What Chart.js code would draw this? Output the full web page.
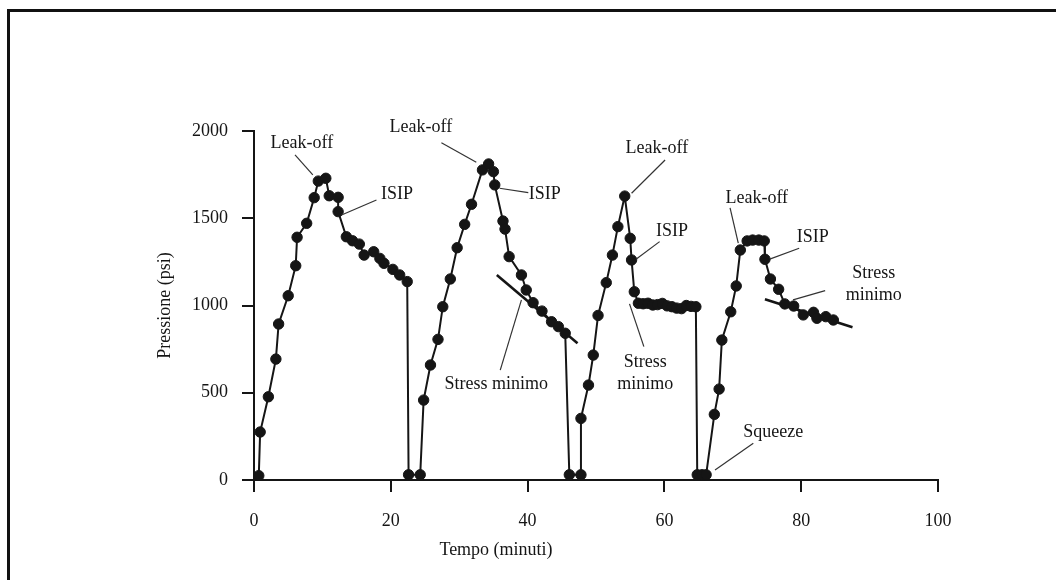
<!DOCTYPE html>
<html>
<head>
<meta charset="utf-8">
<script src="https://cdn.jsdelivr.net/npm/chart.js@4.4.1/dist/chart.umd.min.js"></script>
<style>
  html, body { margin: 0; padding: 0; background: #fff; }
  #wrap { position: relative; width: 1056px; height: 580px; overflow: hidden; }
  #frame { position: absolute; left: 7px; top: 9px; width: 1060px; height: 580px;
           border-top: 3px solid #111; border-left: 3px solid #111; pointer-events: none; }
  canvas { position: absolute; left: 0; top: 0; }
</style>
</head>
<body>
<div id="wrap">
  <canvas id="chart" width="1056" height="580"></canvas>
  <div id="frame"></div>
</div>
<script>
// tempo (minuti) / pressione (psi)
var tempo = [
  0.7, 0.9, 2.1, 3.2, 3.6, 5.0, 6.1, 6.3, 7.7, 8.8, 9.4, 10.5, 11.0, 12.3, 12.3,
  13.5, 14.4, 15.4, 16.1, 17.5, 18.4, 19.0, 20.3, 21.3, 22.4, 22.6, 24.3,
  24.8, 25.8, 26.9, 27.6, 28.7, 29.7, 30.8, 31.8, 33.4, 34.3, 35.0, 35.2,
  36.4, 36.7, 37.3, 39.1, 39.8, 40.8, 42.1, 43.5, 44.5, 45.5, 46.1, 47.8,
  47.8, 48.9, 49.6, 50.3, 51.5, 52.4, 53.2, 54.2, 55.0, 55.2, 55.6, 56.2,
  56.9, 57.6, 58.3, 59.0, 59.7, 60.4, 61.1, 61.8, 62.5, 63.2, 63.9, 64.6,
  64.8, 65.5, 66.1,
  67.3, 68.0, 68.4, 69.7, 70.5, 71.1, 72.1, 72.9, 73.8, 74.6, 74.7, 75.5,
  76.7, 77.6, 78.9, 80.3, 81.8, 82.3, 83.6, 84.7
];
var pressione = [
  25, 275, 477, 693, 894, 1056, 1228, 1391, 1471, 1618, 1713, 1729, 1629, 1620, 1538,
  1394, 1371, 1352, 1289, 1308, 1270, 1242, 1207, 1175, 1137, 30, 30,
  458, 659, 806, 993, 1152, 1331, 1465, 1580, 1777, 1811, 1767, 1691,
  1484, 1438, 1280, 1175, 1089, 1016, 968, 907, 879, 841, 30, 30,
  353, 544, 716, 943, 1131, 1289, 1452, 1627, 1385, 1261, 1079, 1013,
  1010, 1013, 1003, 1005, 1012, 998, 993, 985, 982, 1000, 995, 993,
  30, 30, 30,
  376, 521, 802, 964, 1112, 1318, 1370, 1375, 1375, 1370, 1265, 1152,
  1093, 1009, 997, 946, 961, 927, 936, 917
];

// tangent lines "stress minimo"
var tangente2_t = [35.5, 47.3];
var tangente2_p = [1175, 784];
var tangente4_t = [74.7, 87.5];
var tangente4_p = [1036, 876];

var xTicks = [0, 20, 40, 60, 80, 100];
var yTicks = [0, 500, 1000, 1500, 2000];

// labels with leader lines, in data units
var note = [
  { text: ['Leak-off'], at: [7.0, 1931], from: [6.0, 1863], to: [8.6, 1748] },
  { text: ['ISIP'], at: [20.9, 1639], from: [17.9, 1605], to: [12.8, 1519] },
  { text: ['Leak-off'], at: [24.4, 2023], from: [27.4, 1933], to: [32.5, 1821] },
  { text: ['ISIP'], at: [42.5, 1639], from: [40.1, 1647], to: [35.9, 1672] },
  { text: ['Stress minimo'], at: [35.4, 550], from: [39.1, 1032], to: [36.0, 630] },
  { text: ['Leak-off'], at: [58.9, 1903], from: [60.1, 1834], to: [55.2, 1643] },
  { text: ['ISIP'], at: [61.1, 1427], from: [59.3, 1366], to: [55.9, 1267] },
  { text: ['Stress', 'minimo'], at: [57.2, 676], from: [54.9, 1009], to: [57.0, 764] },
  { text: ['Squeeze'], at: [75.9, 275], from: [73.0, 210], to: [67.4, 57] },
  { text: ['Leak-off'], at: [73.5, 1616], from: [69.6, 1559], to: [70.8, 1357] },
  { text: ['ISIP'], at: [81.7, 1393], from: [79.7, 1328], to: [75.4, 1266] },
  { text: ['Stress', 'minimo'], at: [90.6, 1186], from: [78.8, 1032], to: [83.5, 1085] }
];

var ink = '#151515';
var serif = '"Liberation Serif", "DejaVu Serif", serif';

function pairs(xs, ys) {
  var out = [];
  for (var i = 0; i < xs.length; i++) out.push({ x: xs[i], y: ys[i] });
  return out;
}

var notesPlugin = {
  id: 'notes',
  afterDatasetsDraw: function(chart) {
    var c = chart.ctx, xs = chart.scales.x, ys = chart.scales.y;
    c.save();
    c.strokeStyle = '#333';
    c.lineWidth = 1.2;
    c.fillStyle = ink;
    c.font = '18px ' + serif;
    c.textAlign = 'center';
    c.textBaseline = 'middle';
    note.forEach(function(n) {
      c.beginPath();
      c.moveTo(xs.getPixelForValue(n.from[0]), ys.getPixelForValue(n.from[1]));
      c.lineTo(xs.getPixelForValue(n.to[0]), ys.getPixelForValue(n.to[1]));
      c.stroke();
      var px = xs.getPixelForValue(n.at[0]), py = ys.getPixelForValue(n.at[1]);
      for (var k = 0; k < n.text.length; k++) {
        c.fillText(n.text[k], px, py + k * 22);
      }
    });
    // axis titles
    var a = chart.chartArea;
    c.fillText('Tempo (minuti)', a.left + 242, 550);
    c.translate(165, (a.top + a.bottom) / 2);
    c.rotate(-Math.PI / 2);
    c.fillText('Pressione (psi)', 0, 0);
    c.restore();
  }
};

function plain(v) { return String(v); }

var ctx = document.getElementById('chart').getContext('2d');
var chart = new Chart(ctx, {
  type: 'scatter',
  data: {
    datasets: [
      {
        data: pairs(tempo, pressione),
        showLine: true,
        borderColor: ink,
        borderWidth: 2,
        pointRadius: 5.2,
        pointBackgroundColor: ink,
        pointBorderColor: ink,
        pointBorderWidth: 1,
        tension: 0
      },
      {
        data: pairs(tangente2_t, tangente2_p),
        showLine: true, borderColor: ink, borderWidth: 2.6, pointRadius: 0
      },
      {
        data: pairs(tangente4_t, tangente4_p),
        showLine: true, borderColor: ink, borderWidth: 2.6, pointRadius: 0
      }
    ]
  },
  options: {
    responsive: false,
    animation: false,
    layout: { padding: { top: 131, right: 118, left: 0, bottom: 0 } },
    plugins: { legend: { display: false }, tooltip: { enabled: false } },
    scales: {
      x: {
        type: 'linear', min: 0, max: 100,
        afterBuildTicks: function(s) { s.ticks = xTicks.map(function(v) { return { value: v }; }); },
        afterFit: function(s) { s.height = 100; },
        ticks: { color: ink, padding: 18, font: { family: serif, size: 18 }, callback: plain },
        grid: { drawOnChartArea: false, tickLength: 12, color: ink, lineWidth: 2 },
        border: { color: ink, width: 2 }
      },
      y: {
        type: 'linear', min: 0, max: 2000,
        afterBuildTicks: function(s) { s.ticks = yTicks.map(function(v) { return { value: v }; }); },
        afterFit: function(s) { s.width = 254; },
        ticks: { color: ink, padding: 14, font: { family: serif, size: 18 }, callback: plain },
        grid: { drawOnChartArea: false, tickLength: 12, color: ink, lineWidth: 2 },
        border: { color: ink, width: 2 }
      }
    }
  },
  plugins: [notesPlugin]
});
</script>
</body>
</html>
